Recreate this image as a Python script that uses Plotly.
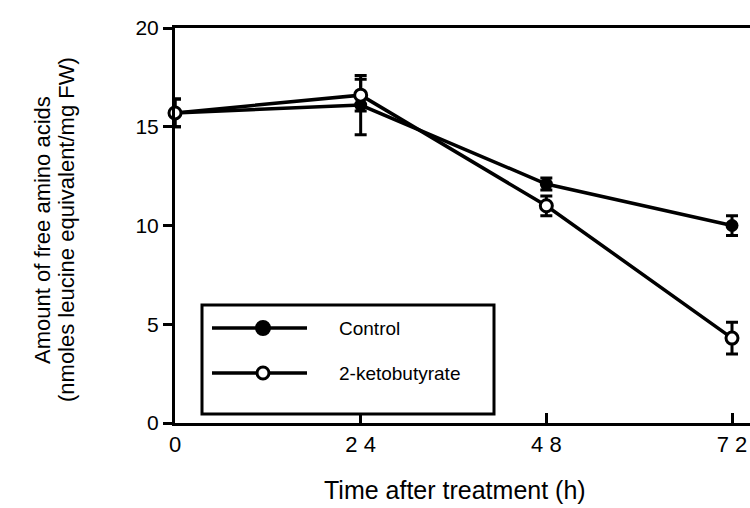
import plotly.graph_objects as go

# ---- data ----
hours = [0, 24, 48, 72]
control = [15.7, 16.1, 12.1, 10.0]
control_err = [0.7, 1.5, 0.3, 0.5]
keto = [15.7, 16.6, 11.0, 4.3]
keto_err = [0.7, 0.8, 0.5, 0.8]
x_ticks = [0, 24, 48, 72]
x_tick_text = ["0", "2 4", "4 8", "7 2"]
y_ticks = [0, 5, 10, 15, 20]
series_names = ["Control", "2-ketobutyrate"]
y_title_lines = ["Amount of free amino acids", "(nmoles leucine equivalent/mg FW)"]

W, H = 750, 508
L, R, T, B = 175, 0, 28, 85
fig = go.Figure()

fig.add_trace(go.Scatter(
    x=hours, y=control, mode="lines+markers", name=series_names[0],
    line=dict(color="black", width=3.5),
    marker=dict(symbol="circle", size=13, color="black"),
    error_y=dict(type="data", array=control_err, color="black", thickness=3, width=6),
    showlegend=False, cliponaxis=False))
fig.add_trace(go.Scatter(
    x=hours, y=keto, mode="lines+markers", name=series_names[1],
    line=dict(color="black", width=3.5),
    marker=dict(symbol="circle", size=12, color="white", line=dict(color="black", width=3)),
    error_y=dict(type="data", array=keto_err, color="black", thickness=3, width=6),
    showlegend=False, cliponaxis=False))

plot_w = W - L - R
xmax = 72 * plot_w / (732 - 175)

def px2paper_x(px):
    return (px - L) / plot_w

def px2paper_y(py):
    return (H - B - py) / (H - T - B)

# custom legend box
shapes = [dict(type="rect", xref="paper", yref="paper",
               x0=px2paper_x(202), x1=px2paper_x(494),
               y0=px2paper_y(414), y1=px2paper_y(305),
               line=dict(color="black", width=3), fillcolor="white", layer="above")]
annotations = []
rows = [(328, True, series_names[0]), (373, False, series_names[1])]
for py, filled, name in rows:
    shapes.append(dict(type="line", xref="paper", yref="paper",
                       x0=px2paper_x(212), x1=px2paper_x(307),
                       y0=px2paper_y(py), y1=px2paper_y(py),
                       line=dict(color="black", width=3.5), layer="above"))
    r = 6.5 if filled else 6
    shapes.append(dict(type="circle", xref="paper", yref="paper",
                       x0=px2paper_x(263 - r), x1=px2paper_x(263 + r),
                       y0=px2paper_y(py + r), y1=px2paper_y(py - r),
                       fillcolor="black" if filled else "white",
                       line=dict(color="black", width=3), layer="above"))
    annotations.append(dict(text=name, xref="paper", yref="paper",
                            x=px2paper_x(337), y=px2paper_y(py), xanchor="left",
                            yanchor="middle", showarrow=False,
                            font=dict(family="Liberation Sans Narrow, Liberation Sans, Arial", size=19, color="black")))

annotations.append(dict(text="Time after treatment (h)", xref="paper", yref="paper",
                        x=px2paper_x(455), y=px2paper_y(490), xanchor="center", yanchor="middle",
                        showarrow=False, font=dict(family="Liberation Sans, Arial", size=25, color="black")))
for xpx, line in zip([42, 66], y_title_lines):
    annotations.append(dict(text=line,
                            xref="paper", yref="paper", x=px2paper_x(xpx), y=px2paper_y(230),
                            xanchor="center", yanchor="middle", textangle=-90, showarrow=False,
                            font=dict(family="Liberation Sans, Arial", size=22, color="black")))

fig.update_layout(
    width=W, height=H, margin=dict(l=L, r=R, t=T, b=B),
    plot_bgcolor="white", paper_bgcolor="white",
    shapes=shapes, annotations=annotations,
    font=dict(family="Liberation Sans, Arial", color="black"),
    xaxis=dict(range=[0, xmax], tickvals=x_ticks, ticktext=x_tick_text,
               showline=True, linecolor="black", linewidth=3, mirror=True,
               ticks="inside", ticklen=10, tickwidth=3, tickcolor="black",
               showgrid=False, zeroline=False, tickfont=dict(size=22)),
    yaxis=dict(range=[0, 20], tickvals=y_ticks, showline=True, linecolor="black",
               linewidth=3, ticks="outside", ticklen=9, tickwidth=3, tickcolor="black",
               showgrid=False, zeroline=False, tickfont=dict(size=21)),
)
fig.write_html("out.html")
